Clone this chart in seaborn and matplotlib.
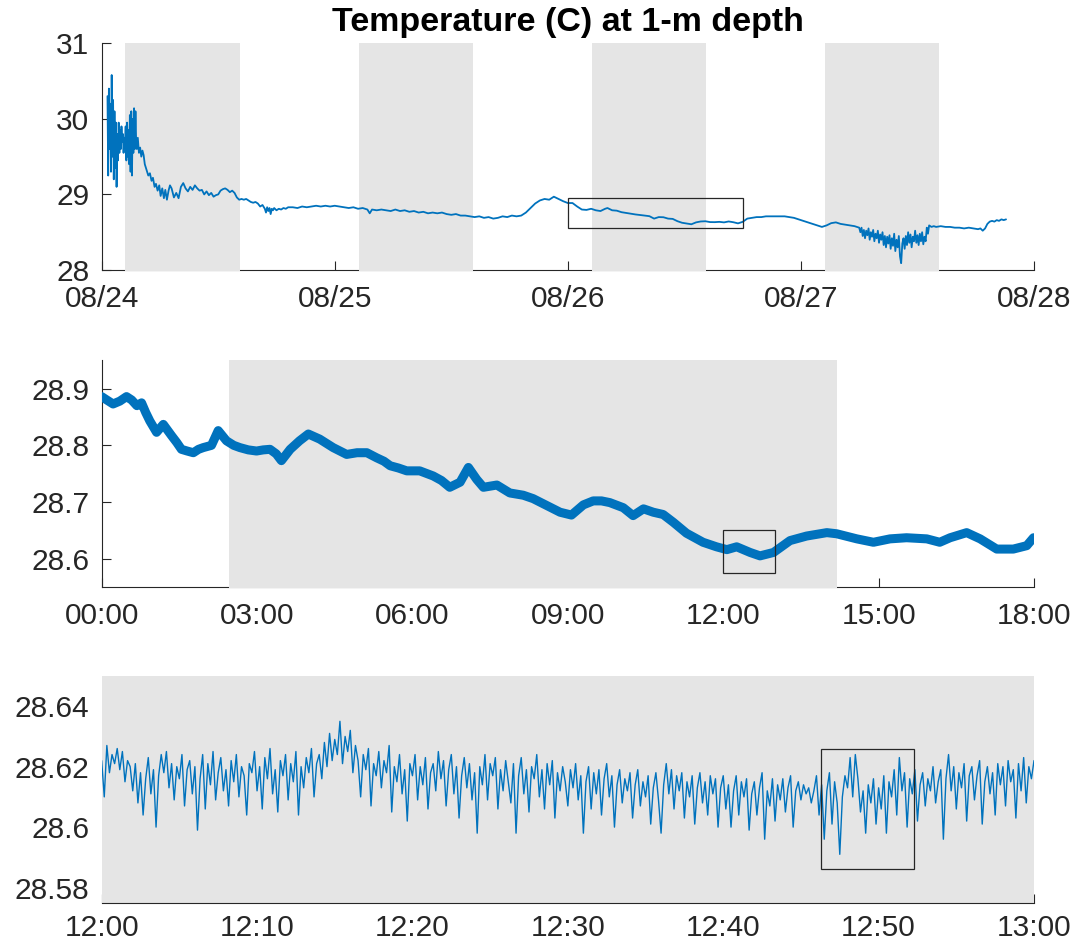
import matplotlib
matplotlib.use("Agg")
import matplotlib.pyplot as plt
from matplotlib.patches import Rectangle
import numpy as np
import seaborn as sns

# ---------------- values ----------------
# top panel: days after 08/24 00:00 and temperature (C)
p1_day = [
    0.025, 0.028, 0.031, 0.034, 0.037, 0.040, 0.043, 0.046, 0.049, 0.052,
    0.055, 0.058, 0.061, 0.064, 0.067, 0.070, 0.073, 0.076, 0.079, 0.082,
    0.085, 0.088, 0.091, 0.094, 0.097, 0.100, 0.103, 0.106, 0.109, 0.112,
    0.115, 0.118, 0.121, 0.124, 0.127, 0.130, 0.133, 0.136, 0.139, 0.142,
    0.145, 0.148, 0.151, 0.155, 0.160, 0.165, 0.170, 0.175, 0.180, 0.185,
    0.190, 0.195, 0.200, 0.207, 0.214, 0.220, 0.227, 0.233, 0.240, 0.247,
    0.253, 0.260, 0.267, 0.273, 0.280, 0.287, 0.293, 0.300,
    0.310, 0.320, 0.330, 0.340, 0.350, 0.360, 0.370, 0.380, 0.390, 0.400,
    0.410, 0.420, 0.430, 0.440, 0.450, 0.460, 0.470, 0.480, 0.490, 0.500,
    0.510, 0.520, 0.530, 0.540, 0.550, 0.560, 0.570, 0.580, 0.590, 0.600,
    0.610, 0.620, 0.630, 0.640, 0.650, 0.660, 0.670, 0.680, 0.690, 0.700,
    0.705, 0.710, 0.715, 0.720, 0.725, 0.730, 0.735, 0.740, 0.750, 0.760,
    0.770, 0.780, 0.790, 0.800, 0.820, 0.840, 0.860, 0.880, 0.900, 0.920,
    0.940, 0.960, 0.980, 1.000,
    1.020, 1.040, 1.060, 1.080, 1.100, 1.120, 1.140, 1.150, 1.160, 1.180,
    1.200, 1.220, 1.240, 1.260, 1.280, 1.300, 1.320, 1.340, 1.360, 1.380,
    1.400, 1.420, 1.440, 1.460, 1.480, 1.500, 1.520, 1.540, 1.560, 1.580,
    1.600, 1.620, 1.640, 1.660, 1.680, 1.700, 1.720, 1.740, 1.760, 1.780,
    1.800, 1.820, 1.840, 1.860, 1.880, 1.900, 1.920, 1.940, 1.960, 1.980,
    2.000, 2.020, 2.040, 2.060, 2.080, 2.100, 2.120, 2.140, 2.160, 2.170,
    2.190, 2.210, 2.230, 2.250, 2.270, 2.290, 2.310, 2.330, 2.350, 2.370,
    2.390, 2.410, 2.430, 2.450, 2.470, 2.490, 2.510, 2.530, 2.550, 2.570,
    2.590, 2.610, 2.630, 2.650, 2.670, 2.690, 2.710, 2.730, 2.750, 2.770,
    2.790, 2.810, 2.830, 2.850, 2.870, 2.890, 2.910, 2.930, 2.950, 2.970,
    2.990, 3.010, 3.030, 3.050, 3.070, 3.090, 3.110, 3.130, 3.150, 3.170,
    3.190, 3.210, 3.230, 3.250,
    3.255, 3.260, 3.265, 3.270, 3.275, 3.280, 3.285, 3.290, 3.295, 3.300,
    3.305, 3.310, 3.315, 3.320, 3.325, 3.330, 3.335, 3.340, 3.345, 3.350,
    3.355, 3.360, 3.365, 3.370, 3.375, 3.380, 3.385, 3.390, 3.395, 3.400,
    3.405, 3.410, 3.415, 3.420, 3.425, 3.430, 3.435, 3.440, 3.445, 3.450,
    3.455, 3.460, 3.465, 3.470, 3.475, 3.480, 3.485, 3.490, 3.495, 3.500,
    3.505, 3.510, 3.515, 3.520, 3.525, 3.530, 3.535, 3.540, 3.545, 3.550,
    3.560, 3.570, 3.580, 3.600, 3.620, 3.640, 3.660, 3.680, 3.700, 3.720,
    3.740, 3.760, 3.770, 3.780, 3.790, 3.800, 3.810, 3.820, 3.830, 3.840,
    3.850, 3.860, 3.870, 3.880,
]
p1_temp = [
    30.30, 29.25, 30.40, 29.60, 30.20, 29.30, 30.58, 29.50, 30.25, 29.20,
    30.10, 29.35, 29.95, 29.10, 29.80, 29.45, 29.95, 29.55, 29.85, 29.60,
    29.90, 29.70, 29.80, 29.55, 29.75, 29.65, 29.90, 29.45, 29.95, 29.50,
    29.85, 29.40, 30.05, 29.30, 30.10, 29.25, 30.00, 29.55, 30.14, 29.60,
    30.10, 29.70, 29.60, 29.75, 29.55, 29.62, 29.50, 29.58, 29.52, 29.40,
    29.35, 29.30, 29.25, 29.28, 29.18, 29.22, 29.10, 29.14, 29.05, 29.12,
    28.98, 29.08, 28.95, 29.06, 28.93, 29.05, 29.12, 29.08,
    28.96, 29.02, 28.95, 29.10, 29.15, 29.08, 29.04, 29.10, 29.06, 29.12,
    29.08, 29.05, 29.06, 29.00, 29.04, 28.99, 29.02, 28.97, 28.99, 29.00,
    29.05, 29.07, 29.08, 29.06, 29.03, 29.05, 29.02, 28.96, 28.93, 28.94,
    28.93, 28.94, 28.92, 28.90, 28.89, 28.90, 28.88, 28.84, 28.86, 28.81,
    28.76, 28.83, 28.78, 28.82, 28.74, 28.81, 28.79, 28.82, 28.79, 28.81,
    28.80, 28.82, 28.81, 28.83, 28.83, 28.82, 28.84, 28.83, 28.84, 28.85,
    28.84, 28.85, 28.84, 28.85,
    28.84, 28.83, 28.82, 28.83, 28.81, 28.82, 28.80, 28.75, 28.80, 28.79,
    28.80, 28.79, 28.78, 28.80, 28.78, 28.79, 28.77, 28.78, 28.76, 28.77,
    28.75, 28.76, 28.75, 28.76, 28.74, 28.73, 28.74, 28.72, 28.72, 28.71,
    28.70, 28.71, 28.69, 28.70, 28.68, 28.69, 28.71, 28.70, 28.72, 28.71,
    28.72, 28.76, 28.82, 28.88, 28.92, 28.94, 28.93, 28.97, 28.94, 28.91,
    28.886, 28.886, 28.840, 28.800, 28.795, 28.810, 28.790, 28.780, 28.810, 28.820,
    28.790, 28.785, 28.765, 28.755, 28.745, 28.735, 28.728, 28.720, 28.712, 28.680,
    28.700, 28.698, 28.680, 28.676, 28.646, 28.625, 28.615, 28.605, 28.630, 28.642,
    28.645, 28.634, 28.633, 28.637, 28.630, 28.642, 28.632, 28.617, 28.637, 28.680,
    28.690, 28.700, 28.700, 28.710, 28.710, 28.710, 28.710, 28.710, 28.700, 28.690,
    28.670, 28.650, 28.630, 28.610, 28.590, 28.570, 28.590, 28.620, 28.630, 28.610,
    28.600, 28.590, 28.580, 28.560,
    28.50, 28.56, 28.45, 28.53, 28.42, 28.52, 28.46, 28.55, 28.40, 28.50,
    28.44, 28.53, 28.38, 28.48, 28.42, 28.52, 28.36, 28.47, 28.40, 28.50,
    28.33, 28.45, 28.30, 28.44, 28.35, 28.46, 28.28, 28.42, 28.32, 28.48,
    28.25, 28.40, 28.30, 28.45, 28.18, 28.09, 28.35, 28.42, 28.28, 28.45,
    28.33, 28.50, 28.36, 28.47, 28.30, 28.44, 28.38, 28.52, 28.36, 28.46,
    28.33, 28.48, 28.38, 28.50, 28.34, 28.44, 28.38, 28.56, 28.48, 28.59,
    28.57, 28.58, 28.57, 28.58, 28.57, 28.57, 28.56, 28.56, 28.55, 28.56,
    28.55, 28.54, 28.55, 28.52, 28.55, 28.61, 28.64, 28.65, 28.64, 28.66,
    28.65, 28.67, 28.66, 28.67,
]

# middle panel: hours on 08/26 and temperature (C)
p2_hour = [
    0.00, 0.10, 0.22, 0.35, 0.48, 0.58, 0.68, 0.77, 0.85, 0.93,
    1.06, 1.19, 1.35, 1.45, 1.54, 1.65, 1.77, 1.87, 1.96, 2.12,
    2.25, 2.41, 2.55, 2.67, 2.83, 2.99, 3.12, 3.25, 3.37, 3.47,
    3.64, 3.82, 3.99, 4.21, 4.47, 4.73, 4.93, 5.12, 5.31, 5.45,
    5.57, 5.73, 5.89, 6.14, 6.40, 6.56, 6.72, 6.92, 7.08, 7.24,
    7.37, 7.50, 7.63, 7.88, 8.14, 8.33, 8.59, 8.85, 9.07, 9.30,
    9.49, 9.65, 9.81, 10.07, 10.26, 10.46, 10.65, 10.84, 11.04, 11.29,
    11.61, 11.87, 12.07, 12.26, 12.52, 12.71, 12.97, 13.29, 13.61, 14.00,
    14.19, 14.58, 14.90, 15.22, 15.54, 15.93, 16.18, 16.38, 16.70, 16.96,
    17.28, 17.60, 17.86, 17.99,
]
p2_temp = [
    28.886, 28.880, 28.873, 28.878, 28.886, 28.880, 28.870, 28.875, 28.858, 28.843,
    28.823, 28.837, 28.817, 28.805, 28.793, 28.790, 28.787, 28.793, 28.796, 28.800,
    28.826, 28.808, 28.800, 28.796, 28.792, 28.790, 28.792, 28.793, 28.785, 28.773,
    28.793, 28.808, 28.820, 28.811, 28.796, 28.784, 28.787, 28.787, 28.778, 28.772,
    28.764, 28.760, 28.755, 28.755, 28.746, 28.738, 28.726, 28.735, 28.761, 28.740,
    28.726, 28.728, 28.730, 28.716, 28.712, 28.706, 28.694, 28.682, 28.677, 28.695,
    28.702, 28.702, 28.699, 28.690, 28.676, 28.688, 28.682, 28.678, 28.664, 28.645,
    28.629, 28.621, 28.616, 28.621, 28.611, 28.605, 28.611, 28.632, 28.640, 28.646,
    28.644, 28.635, 28.629, 28.635, 28.637, 28.635, 28.629, 28.637, 28.646, 28.635,
    28.617, 28.617, 28.623, 28.637,
]

# bottom panel: 10-second samples from 12:00 to 13:00 on 08/26
p3_step_s = 10
p3_temp = [
    28.622, 28.610, 28.627, 28.618, 28.624, 28.621, 28.626, 28.619, 28.625, 28.615, 28.622, 28.620,
    28.612, 28.621, 28.608, 28.618, 28.604, 28.616, 28.623, 28.611, 28.619, 28.600, 28.617, 28.624,
    28.618, 28.625, 28.613, 28.621, 28.609, 28.620, 28.616, 28.624, 28.607, 28.619, 28.622, 28.611,
    28.620, 28.599, 28.616, 28.624, 28.606, 28.621, 28.614, 28.625, 28.609, 28.618, 28.623, 28.612,
    28.619, 28.607, 28.622, 28.615, 28.624, 28.610, 28.620, 28.617, 28.604, 28.621, 28.618, 28.625,
    28.612, 28.620, 28.606, 28.623, 28.616, 28.626, 28.611, 28.619, 28.605, 28.622, 28.617, 28.624,
    28.609, 28.621, 28.615, 28.625, 28.604, 28.620, 28.613, 28.623, 28.618, 28.626, 28.610, 28.621,
    28.624, 28.616, 28.628, 28.620, 28.631, 28.622, 28.629, 28.624, 28.635, 28.621, 28.630, 28.625,
    28.632, 28.618, 28.627, 28.622, 28.610, 28.624, 28.619, 28.626, 28.607, 28.621, 28.617, 28.625,
    28.613, 28.622, 28.618, 28.627, 28.605, 28.620, 28.615, 28.624, 28.611, 28.619, 28.602, 28.621,
    28.617, 28.624, 28.609, 28.620, 28.614, 28.623, 28.606, 28.618, 28.621, 28.612, 28.625, 28.616,
    28.622, 28.607, 28.619, 28.624, 28.611, 28.620, 28.603, 28.617, 28.623, 28.613, 28.621, 28.609,
    28.618, 28.598, 28.620, 28.614, 28.624, 28.609, 28.621, 28.617, 28.623, 28.606, 28.619, 28.612,
    28.622, 28.615, 28.608, 28.621, 28.598, 28.617, 28.623, 28.611, 28.619, 28.605, 28.620, 28.616,
    28.624, 28.610, 28.619, 28.606, 28.621, 28.614, 28.622, 28.603, 28.618, 28.612, 28.620, 28.615,
    28.607, 28.619, 28.613, 28.621, 28.609, 28.617, 28.598, 28.615, 28.620, 28.606, 28.618, 28.611,
    28.619, 28.604, 28.616, 28.621, 28.610, 28.617, 28.600, 28.614, 28.619, 28.608, 28.616, 28.612,
    28.618, 28.603, 28.614, 28.619, 28.607, 28.615, 28.610, 28.617, 28.601, 28.613, 28.618, 28.609,
    28.598, 28.614, 28.621, 28.611, 28.619, 28.606, 28.617, 28.612, 28.618, 28.603, 28.615, 28.610,
    28.617, 28.601, 28.613, 28.618, 28.608, 28.615, 28.604, 28.617, 28.611, 28.616, 28.600, 28.613,
    28.617, 28.606, 28.614, 28.600, 28.612, 28.617, 28.604, 28.615, 28.610, 28.616, 28.599, 28.611,
    28.615, 28.604, 28.613, 28.618, 28.596, 28.612, 28.607, 28.616, 28.602, 28.614, 28.609, 28.616,
    28.605, 28.613, 28.617, 28.600, 28.612, 28.615, 28.609, 28.614, 28.611, 28.613, 28.608, 28.612,
    28.617, 28.604, 28.614, 28.596, 28.612, 28.618, 28.601, 28.615, 28.608, 28.591, 28.610, 28.617,
    28.613, 28.623, 28.610, 28.624, 28.616, 28.605, 28.612, 28.598, 28.614, 28.608, 28.616, 28.601,
    28.613, 28.606, 28.617, 28.598, 28.615, 28.610, 28.619, 28.604, 28.623, 28.612, 28.618, 28.600,
    28.616, 28.611, 28.619, 28.602, 28.614, 28.618, 28.607, 28.616, 28.612, 28.620, 28.608, 28.615,
    28.619, 28.596, 28.616, 28.624, 28.612, 28.620, 28.606, 28.618, 28.613, 28.621, 28.602, 28.617,
    28.620, 28.609, 28.617, 28.622, 28.601, 28.615, 28.620, 28.611, 28.618, 28.604, 28.621, 28.614,
    28.620, 28.607, 28.622, 28.615, 28.619, 28.603, 28.621, 28.612, 28.623, 28.608, 28.620, 28.616,
    28.622,
]

# night (shaded) hours of each day
night_start_h = 2.45
night_end_h = 14.2

# axis limits, ticks and labels
p1_xlim, p1_ylim = (0, 4), (28, 31)
p1_xticks = [0, 1, 2, 3, 4]
p1_xlabels = ["08/24", "08/25", "08/26", "08/27", "08/28"]
p1_yticks = [28, 29, 30, 31]
p1_ylabels = ["28", "29", "30", "31"]

p2_xlim, p2_ylim = (0, 18), (28.55, 28.95)
p2_xticks = [0, 3, 6, 9, 12, 15, 18]
p2_xlabels = ["00:00", "03:00", "06:00", "09:00", "12:00", "15:00", "18:00"]
p2_yticks = [28.6, 28.7, 28.8, 28.9]
p2_ylabels = ["28.6", "28.7", "28.8", "28.9"]

p3_xlim, p3_ylim = (0, 60), (28.575, 28.65)
p3_xticks = [0, 10, 20, 30, 40, 50, 60]
p3_xlabels = ["12:00", "12:10", "12:20", "12:30", "12:40", "12:50", "13:00"]
p3_yticks = [28.58, 28.6, 28.62, 28.64]
p3_ylabels = ["28.58", "28.6", "28.62", "28.64"]

# zoom boxes (x0, x1, y0, y1) in each panel's own units
box1 = (2.0, 2.75, 28.55, 28.95)     # days
box2 = (12.0, 13.0, 28.575, 28.65)   # hours
box3 = (46.3, 52.3, 28.586, 28.626)  # minutes after 12:00

title = "Temperature (C) at 1-m depth"

# ---------------- drawing ----------------
sns.set_style("ticks")
plt.rcParams["font.family"] = ["Liberation Sans", "DejaVu Sans"]

ink = "#262626"
blue = "#0072BD"
night = "#E5E5E5"

fig = plt.figure(figsize=(10.92, 9.47), dpi=100)
left, width, height = 0.0931, 0.8538, 0.2394
ax1 = fig.add_axes([left, 0.7149, width, height])
ax2 = fig.add_axes([left, 0.3801, width, height])
ax3 = fig.add_axes([left, 0.0468, width, height])


def style(ax, xlim, ylim, xt, xl, yt, yl, xpad=11):
    ax.set_xlim(*xlim)
    ax.set_ylim(*ylim)
    ax.set_xticks(xt, xl)
    ax.set_yticks(yt, yl)
    ax.set_xlabel("")
    ax.set_ylabel("")
    for s in ["top", "right"]:
        ax.spines[s].set_visible(False)
    for s in ["left", "bottom"]:
        ax.spines[s].set_color(ink)
        ax.spines[s].set_linewidth(0.8)
    ax.tick_params(direction="in", length=6.5, width=0.8, color=ink,
                   labelcolor=ink, labelsize=21.5)
    ax.tick_params(axis="x", pad=xpad)
    ax.tick_params(axis="y", pad=9)


def add_box(ax, box):
    x0, x1, y0, y1 = box
    ax.add_patch(Rectangle((x0, y0), x1 - x0, y1 - y0, fill=False,
                           ec=ink, lw=0.9, zorder=5))


# top panel
for day in range(4):
    ax1.axvspan(day + night_start_h / 24, day + night_end_h / 24, ymin=-0.005,
                color=night, lw=0, zorder=3, clip_on=False)
sns.lineplot(x=p1_day, y=p1_temp, ax=ax1, color=blue, linewidth=1.3,
             estimator=None, sort=False, zorder=4)
style(ax1, p1_xlim, p1_ylim, p1_xticks, p1_xlabels, p1_yticks, p1_ylabels)
add_box(ax1, box1)
ax1.set_title(title, fontsize=24.5, fontweight="bold", pad=9, color="black")

# middle panel
ax2.axvspan(night_start_h, night_end_h, ymin=-0.005, color=night, lw=0,
            zorder=3, clip_on=False)
sns.lineplot(x=p2_hour, y=p2_temp, ax=ax2, color=blue, linewidth=6.5,
             estimator=None, sort=False, zorder=4)
style(ax2, p2_xlim, p2_ylim, p2_xticks, p2_xlabels, p2_yticks, p2_ylabels)
add_box(ax2, box2)

# bottom panel (all inside the night band)
p3_min = np.arange(len(p3_temp)) * p3_step_s / 60
ax3.axvspan((night_start_h - 12) * 60, (night_end_h - 12) * 60, color=night,
            lw=0, zorder=3)
sns.lineplot(x=p3_min, y=p3_temp, ax=ax3, color=blue, linewidth=1.0,
             estimator=None, sort=False, zorder=4)
style(ax3, p3_xlim, p3_ylim, p3_xticks, p3_xlabels, p3_yticks, p3_ylabels,
      xpad=8)
ax3.spines["left"].set_visible(False)
ax3.spines["bottom"].set_zorder(3.5)
add_box(ax3, box3)

fig.savefig("out.png", dpi=100, facecolor="white")
